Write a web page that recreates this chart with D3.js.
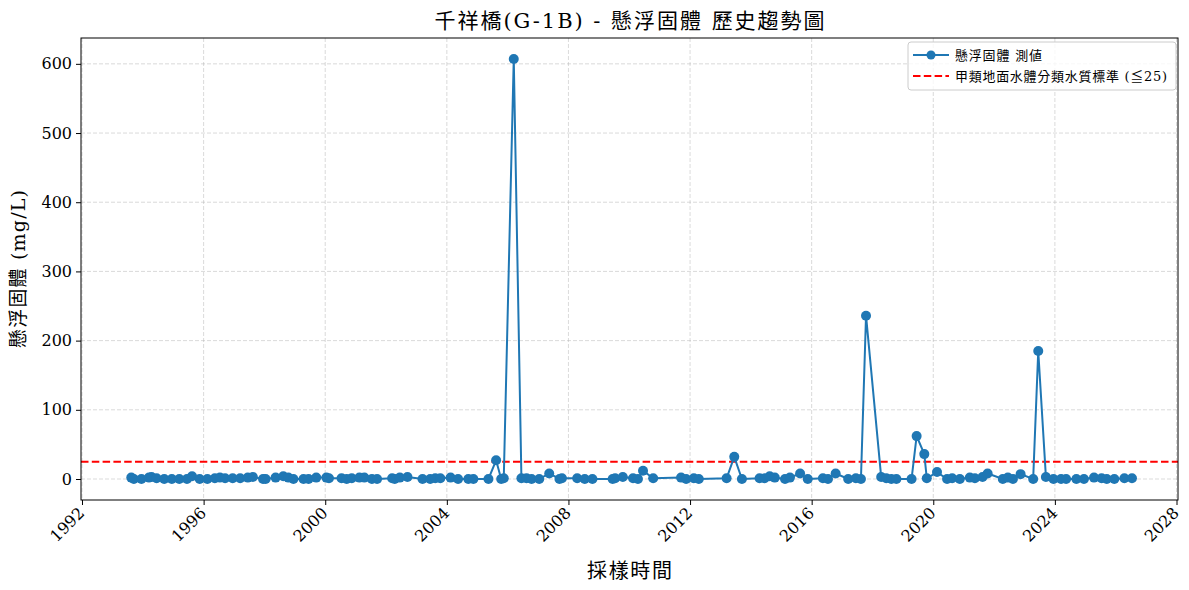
<!DOCTYPE html>
<html>
<head>
<meta charset="utf-8">
<script src="https://cdn.jsdelivr.net/npm/d3@7"></script>
<style>
  body { margin: 0; background: #fff; }
  svg { font-family: "DejaVu Serif", "Noto Sans CJK TC", serif; }
</style>
</head>
<body>
<svg id="chart" width="1189" height="590"></svg>
<script>
// sampling dates (year-month) and suspended solids values (mg/L)
const sampleDates = [
  "1993-08","1993-09","1993-12","1994-03","1994-04","1994-06","1994-09","1994-12",
  "1995-03","1995-06","1995-08","1995-11","1996-02","1996-05","1996-07","1996-09",
  "1996-12","1997-03","1997-06","1997-08","1997-12","1998-01","1998-05","1998-08",
  "1998-10","1998-12","1999-04","1999-06","1999-09","2000-01","2000-02","2000-07",
  "2000-09","2000-11","2001-02","2001-04","2001-07","2001-09","2002-03","2002-04",
  "2002-06","2002-09","2003-03","2003-06","2003-08","2003-10","2004-02","2004-05",
  "2004-09","2004-11","2005-05","2005-08","2005-10","2005-11","2006-03","2006-06",
  "2006-08","2006-10","2007-01","2007-05","2007-09","2007-10","2008-04","2008-07",
  "2008-10","2009-06","2009-07","2009-10","2010-02","2010-04","2010-06","2010-10",
  "2011-09","2011-11","2012-02","2012-04","2013-03","2013-06","2013-09","2014-04",
  "2014-06","2014-08","2014-10","2015-02","2015-04","2015-08","2015-11","2016-05",
  "2016-07","2016-10","2017-03","2017-06","2017-08","2017-10","2018-04","2018-06",
  "2018-08","2018-10","2019-04","2019-06","2019-09","2019-10","2020-02","2020-06",
  "2020-08","2020-11","2021-03","2021-05","2021-08","2021-10","2022-04","2022-06",
  "2022-08","2022-11","2023-04","2023-06","2023-09","2023-12","2024-03","2024-05",
  "2024-09","2024-12","2025-04","2025-07","2025-09","2025-12","2026-04","2026-07"
];
const ssValues = [
  2, 0, 0, 2, 3, 1, 0, 0,
  0, 0, 4, 0, 0, 1, 2, 1,
  1, 1, 2, 3, 0, 0, 2, 4,
  2, 0, 0, 0, 2, 2, 1, 1,
  0, 1, 2, 2, 0, 0, 1, 0,
  2, 3, 0, 0, 1, 1, 2, 0,
  0, 0, 0, 27, 0, 1, 607, 1,
  1, 0, 0, 8, 0, 1, 1, 0,
  0, 0, 1, 3, 1, 0, 12, 1,
  2, 0, 1, 0, 1, 32, 0, 1,
  1, 4, 2, 0, 2, 8, 0, 1,
  0, 8, 0, 1, 0, 236, 3, 1,
  0, 0, 0, 62, 36, 1, 10, 0,
  1, 0, 2, 1, 3, 8, 0, 2,
  0, 7, 0, 185, 3, 0, 0, 0,
  0, 0, 2, 1, 0, 0, 1, 1
];
const standardValue = 25;
const xTickYears = [1992, 1996, 2000, 2004, 2008, 2012, 2016, 2020, 2024, 2028];
const yTicks = [0, 100, 200, 300, 400, 500, 600];

const titleText = "千祥橋(G-1B) - 懸浮固體 歷史趨勢圖";
const xLabel = "採樣時間";
const yLabel = "懸浮固體 (mg/L)";
const legendLabels = ["懸浮固體 測値", "甲類地面水體分類水質標準 (≦25)"];

(function() {
    const blue = "#1f77b4";
    const plot = { left: 81, right: 1178, top: 38, bottom: 500 };

    const parseMonth = d3.timeParse("%Y-%m");
    const data = sampleDates.map((s, i) => ({
        date: d3.timeDay.offset(parseMonth(s), 14),
        value: ssValues[i]
    }));

    const svg = d3.select("#chart");

    const x = d3.scaleTime()
        .domain([new Date(1991, 11, 20), new Date(2028, 0, 19)])
        .range([plot.left, plot.right]);

    const y = d3.scaleLinear()
        .domain([-30.35, 637.35])
        .range([plot.bottom, plot.top]);

    // grid
    const grid = svg.append("g").attr("class", "grid");
    xTickYears.forEach(yr => {
        const gx = x(new Date(yr, 0, 1));
        grid.append("line")
            .attr("x1", gx).attr("x2", gx)
            .attr("y1", plot.top).attr("y2", plot.bottom)
            .attr("stroke", "#b0b0b0").attr("stroke-opacity", 0.6)
            .attr("stroke-width", 0.8).attr("stroke-dasharray", "4,2");
    });
    yTicks.forEach(v => {
        grid.append("line")
            .attr("x1", plot.left).attr("x2", plot.right)
            .attr("y1", y(v)).attr("y2", y(v))
            .attr("stroke", "#b0b0b0").attr("stroke-opacity", 0.6)
            .attr("stroke-width", 0.8).attr("stroke-dasharray", "4,2");
    });

    // standard line
    svg.append("line")
        .attr("x1", plot.left).attr("x2", plot.right)
        .attr("y1", y(standardValue)).attr("y2", y(standardValue))
        .attr("stroke", "red").attr("stroke-width", 2)
        .attr("stroke-dasharray", "7.5,3.3");

    // series
    const line = d3.line().x(d => x(d.date)).y(d => y(d.value));
    svg.append("path")
        .datum(data)
        .attr("fill", "none")
        .attr("stroke", blue)
        .attr("stroke-width", 2)
        .attr("d", line);

    svg.append("g").selectAll("circle")
        .data(data)
        .enter().append("circle")
        .attr("cx", d => x(d.date))
        .attr("cy", d => y(d.value))
        .attr("r", 5)
        .attr("fill", blue);

    // frame
    svg.append("rect")
        .attr("x", plot.left).attr("y", plot.top)
        .attr("width", plot.right - plot.left)
        .attr("height", plot.bottom - plot.top)
        .attr("fill", "none").attr("stroke", "black").attr("stroke-width", 1);

    // axes
    const xAxis = d3.axisBottom(x)
        .tickValues(xTickYears.map(yr => new Date(yr, 0, 1)))
        .tickFormat(d3.timeFormat("%Y"))
        .tickSizeOuter(0).tickSize(5);
    const gx = svg.append("g")
        .attr("transform", `translate(0,${plot.bottom})`)
        .call(xAxis);
    gx.select(".domain").remove();
    gx.selectAll("text")
        .attr("font-size", 16)
        .attr("font-family", "DejaVu Serif")
        .attr("fill", "#000")
        .attr("text-anchor", "end")
        .attr("dy", null)
        .attr("transform", "translate(3,14) rotate(-45)")
        .attr("y", 0).attr("x", 0);

    const yAxis = d3.axisLeft(y)
        .tickValues(yTicks)
        .tickSizeOuter(0).tickSize(5);
    const gy = svg.append("g")
        .attr("transform", `translate(${plot.left},0)`)
        .call(yAxis);
    gy.select(".domain").remove();
    gy.selectAll("text")
        .attr("font-size", 16)
        .attr("font-family", "DejaVu Serif")
        .attr("fill", "#000")
        .attr("x", -9);

    // titles
    svg.append("text")
        .attr("x", (plot.left + plot.right) / 2).attr("y", 28)
        .attr("text-anchor", "middle")
        .attr("font-size", 21)
        .attr("textLength", 390)
        .attr("lengthAdjust", "spacing")
        .text(titleText);

    svg.append("text")
        .attr("x", (plot.left + plot.right) / 2).attr("y", 578)
        .attr("text-anchor", "middle")
        .attr("font-size", 20)
        .attr("textLength", 85)
        .attr("lengthAdjust", "spacing")
        .text(xLabel);

    svg.append("text")
        .attr("transform", `translate(25,${(plot.top + plot.bottom) / 2}) rotate(-90)`)
        .attr("text-anchor", "middle")
        .attr("font-size", 19)
        .attr("textLength", 158)
        .attr("lengthAdjust", "spacing")
        .text(yLabel);

    // legend
    const lg = svg.append("g").attr("transform", "translate(908,42)");
    lg.append("rect")
        .attr("width", 268).attr("height", 48).attr("rx", 3)
        .attr("fill", "white").attr("fill-opacity", 0.8)
        .attr("stroke", "#cccccc");
    lg.append("line")
        .attr("x1", 5).attr("x2", 41).attr("y1", 13).attr("y2", 13)
        .attr("stroke", blue).attr("stroke-width", 2);
    lg.append("circle").attr("cx", 23).attr("cy", 13).attr("r", 4.5).attr("fill", blue);
    lg.append("line")
        .attr("x1", 5).attr("x2", 41).attr("y1", 34).attr("y2", 34)
        .attr("stroke", "red").attr("stroke-width", 2)
        .attr("stroke-dasharray", "7.5,3.3");
    const legendWidths = [87, 212];
    lg.selectAll("text.lbl")
        .data(legendLabels)
        .enter().append("text")
        .attr("class", "lbl")
        .attr("x", 47)
        .attr("y", (d, i) => 18 + i * 21)
        .attr("font-size", 13)
        .attr("textLength", (d, i) => legendWidths[i])
        .attr("lengthAdjust", "spacing")
        .text(d => d);
})();
</script>
</body>
</html>
